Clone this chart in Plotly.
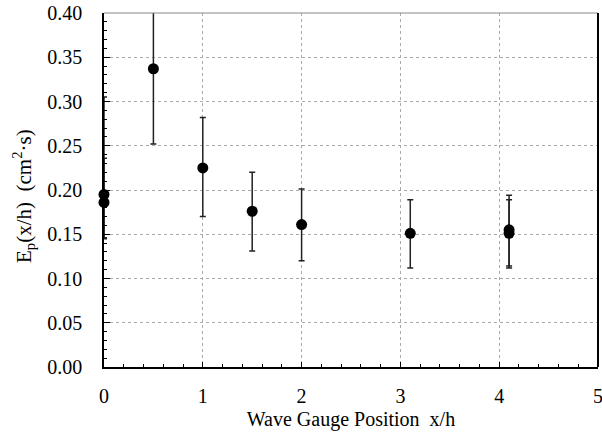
import plotly.graph_objects as go

# Data
x_pos = [0.0, 0.0, 0.5, 1.0, 1.5, 2.0, 3.1, 4.1, 4.1]
ep = [0.195, 0.186, 0.337, 0.225, 0.176, 0.161, 0.151, 0.155, 0.151]
err_plus = [0.11, 0.05, 0.085, 0.057, 0.044, 0.040, 0.038, 0.039, 0.038]
err_minus = [0.05, 0.04, 0.085, 0.055, 0.045, 0.041, 0.039, 0.041, 0.039]

x_ticks = [0, 1, 2, 3, 4, 5]
y_ticks = [0.00, 0.05, 0.10, 0.15, 0.20, 0.25, 0.30, 0.35, 0.40]

FONT = "Liberation Serif"

fig = go.Figure()
fig.add_trace(go.Scatter(
    x=x_pos, y=ep, mode="markers",
    marker=dict(color="black", size=11),
    error_y=dict(type="data", symmetric=False, array=err_plus, arrayminus=err_minus,
                 color="#222222", thickness=1.5, width=3),
    cliponaxis=False,
    showlegend=False,
))

fig.update_layout(
    width=602, height=448,
    margin=dict(l=104, r=4, t=13, b=81),
    paper_bgcolor="white", plot_bgcolor="white",
    font=dict(family=FONT, size=20, color="black"),
    xaxis=dict(
        range=[0, 5], tickvals=x_ticks, ticktext=[str(v) for v in x_ticks],
        showline=True, linecolor="black", linewidth=1.5,
        ticks="inside", ticklen=5, tickcolor="black",
        minor=dict(dtick=0.2, ticks="inside", ticklen=3, tickcolor="black", showgrid=False),
        showgrid=True, gridcolor="#aaaaaa", griddash="dot", gridwidth=1,
        zeroline=False, ticklabelstandoff=10, ticklabeloverflow="allow",
        automargin=False,
        title=dict(text="Wave Gauge Position  x/h", font=dict(size=20), standoff=6),
    ),
    yaxis=dict(
        range=[0, 0.40], tickvals=y_ticks, ticktext=[f"{v:.2f}" for v in y_ticks],
        showline=True, linecolor="black", linewidth=1.5,
        ticks="inside", ticklen=6, tickcolor="black",
        minor=dict(dtick=0.01, ticks="inside", ticklen=3, tickcolor="black", showgrid=False),
        showgrid=True, gridcolor="#aaaaaa", griddash="dot", gridwidth=1,
        zeroline=False, ticklabelstandoff=16, automargin=False,
    ),
    annotations=[dict(
        text="E<sub>p</sub>(x/h)  (cm<sup>2</sup>·s)", textangle=-90,
        xref="paper", yref="paper", x=-0.164, y=0.483,
        xanchor="center", yanchor="middle", showarrow=False,
        font=dict(family=FONT, size=21, color="black"),
    )],
    shapes=[
        dict(type="line", xref="paper", yref="paper", x0=0, x1=1, y0=1, y1=1,
             line=dict(color="#888888", width=1)),
        dict(type="line", xref="paper", yref="paper", x0=1, x1=1, y0=0, y1=1,
             line=dict(color="black", width=2)),
    ],
)

fig.write_html("out.html")
